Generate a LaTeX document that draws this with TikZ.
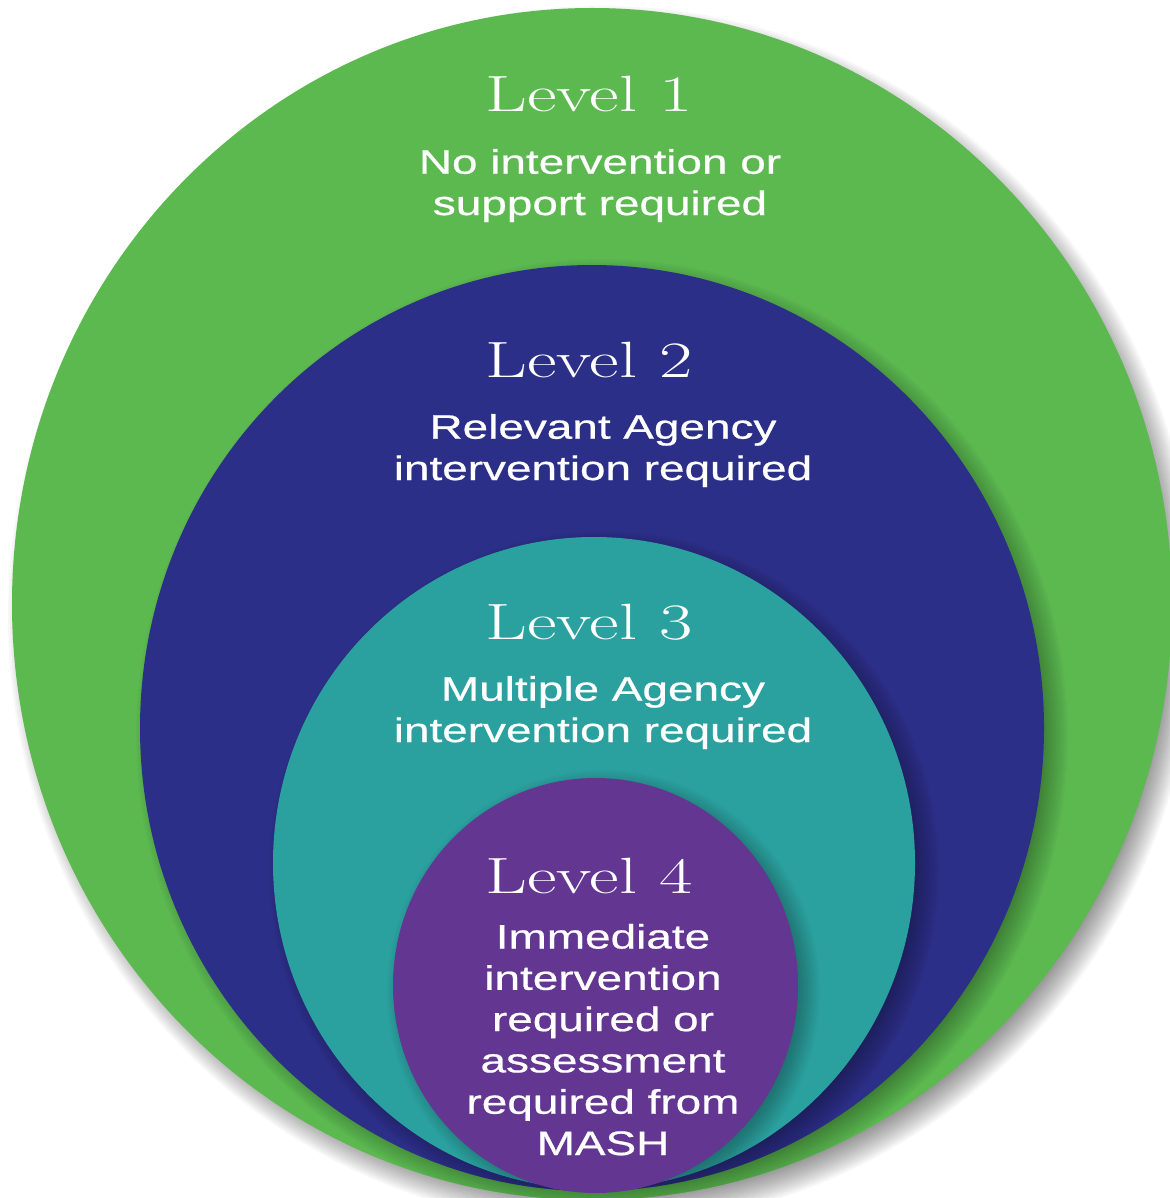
\documentclass[tikz,border=0pt]{standalone}
\usepackage{fontspec}
\newfontfamily\bodyfont[FakeStretch=1.35,FakeBold=0.6]{Liberation Sans}
\newfontfamily\titlefont[FakeStretch=1.42]{Latin Modern Roman}
\usetikzlibrary{shapes.geometric}
\definecolor{lgreen}{HTML}{5CB950}
\definecolor{lblue}{HTML}{2C2F87}
\definecolor{lteal}{HTML}{2BA19F}
\definecolor{lpurple}{HTML}{633691}
\newcommand{\softshadow}[7]{%
  \foreach \k in {0,...,14}{%
    \fill[black,opacity=#7] ({#1+#5},{#2+#6}) ellipse [x radius={(#3-14+2*\k)*1pt}, y radius={(#4-14+2*\k)*1pt}];
  }}
\tikzset{
  lvl/.style={ellipse, draw=none, inner sep=0pt, outer sep=0pt},
  ttl/.style={anchor=base, text=white, inner sep=0pt, font={\titlefont\fontsize{51}{60}\selectfont}},
  bdy/.style={anchor=base, text=white, inner sep=0pt, align=center, font={\bodyfont\fontsize{34}{41.3}\selectfont}}
}
\begin{document}
\begin{tikzpicture}[x=1pt,y=-1pt]
\useasboundingbox (0,0) rectangle (1169,1198);
\fill[white] (0,0) rectangle (1169,1198);
% outer shadow
\softshadow{592}{604}{580}{596}{10}{12}{0.03}
\node[lvl, fill=lgreen, minimum width=1160pt, minimum height=1192pt] (L1) at (592,604) {};
\begin{scope}
  \clip (592,604) ellipse [x radius=580pt, y radius=596pt];
  \softshadow{592}{728}{452}{463}{10}{8}{0.025}
\end{scope}
\node[lvl, fill=lblue, minimum width=904pt, minimum height=926pt] (L2) at (592,728) {};
\begin{scope}
  \clip (592,728) ellipse [x radius=452pt, y radius=463pt];
  \softshadow{594}{863}{321}{326}{10}{8}{0.025}
\end{scope}
\node[lvl, fill=lteal, minimum width=642pt, minimum height=652pt] (L3) at (594,863) {};
\begin{scope}
  \clip (594,863) ellipse [x radius=321pt, y radius=326pt];
  \softshadow{595.5}{985.5}{202.5}{207.5}{8}{6}{0.025}
\end{scope}
\node[lvl, fill=lpurple, minimum width=405pt, minimum height=415pt] (L4) at (595.5,985.5) {};
% texts (base anchor = last line's baseline)
\node[ttl] (t1) at (589,112) {Level 1};
\node[bdy] (b1) at (600,215) {No intervention or\\support required};
\node[ttl] (t2) at (589,377) {Level 2};
\node[bdy] (b2) at (603,480) {Relevant Agency\\intervention required};
\node[ttl] (t3) at (589,639) {Level 3};
\node[bdy] (b3) at (603,742) {Multiple Agency\\intervention required};
\node[ttl] (t4) at (589,893) {Level 4};
\node[bdy] (b4) at (603,1155) {Immediate\\intervention\\required or\\assessment\\required from\\MASH};
\end{tikzpicture}
\end{document}
